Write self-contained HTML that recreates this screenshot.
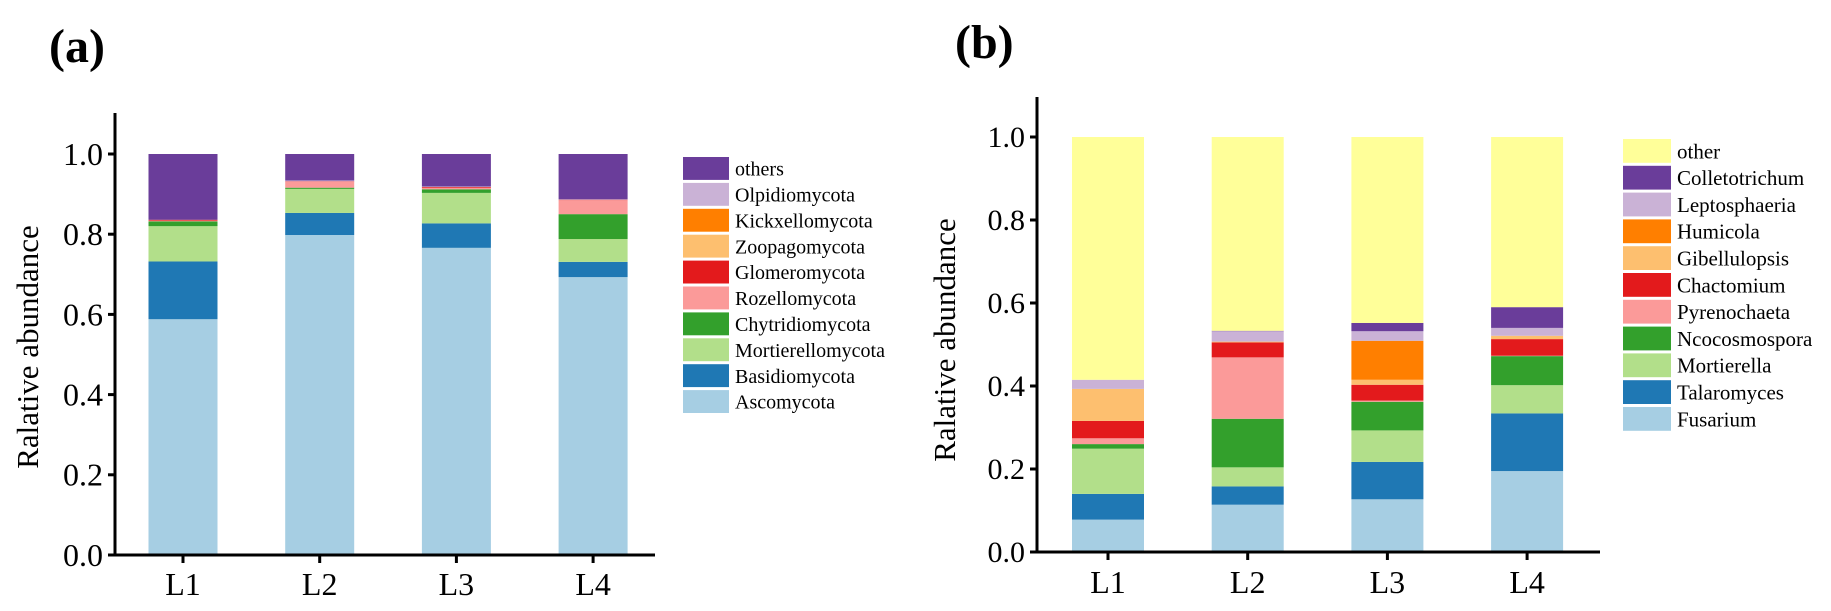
<!DOCTYPE html>
<html><head><meta charset="utf-8"><style>
html,body{margin:0;padding:0;background:#fff;}
svg{display:block;}
svg text{font-family:"Liberation Serif","DejaVu Serif",serif;}
</style></head><body>
<svg id="fig" width="1831" height="611" viewBox="0 0 1831 611" font-family="Liberation Serif, serif">
<text x="49" y="62" font-size="48" font-weight="bold">(a)</text>
<text x="955" y="58" font-size="48" font-weight="bold">(b)</text>
<g id="chartA"></g>
<g id="chartB"></g>
</svg>
<script>
const categories = ["L1","L2","L3","L4"];
const yTicks = [0,0.2,0.4,0.6,0.8,1.0];
const yTickLabels = ["0.0","0.2","0.4","0.6","0.8","1.0"];

// Panel (a) series (bottom -> top)
const aNames = ["Ascomycota","Basidiomycota","Mortierellomycota","Chytridiomycota","Rozellomycota","Glomeromycota","Zoopagomycota","Kickxellomycota","Olpidiomycota","others"];
const aAscomycota = [0.588,0.798,0.766,0.693];
const aBasidiomycota = [0.144,0.055,0.061,0.038];
const aMortierellomycota = [0.088,0.060,0.076,0.057];
const aChytridiomycota = [0.012,0.003,0.009,0.062];
const aRozellomycota = [0.002,0.015,0.004,0.035];
const aGlomeromycota = [0.002,0.001,0.002,0.001];
const aZoopagomycota = [0,0,0,0];
const aKickxellomycota = [0,0,0,0];
const aOlpidiomycota = [0,0.002,0.001,0.001];
const aOthers = [0.164,0.066,0.081,0.113];

// Panel (b) series (bottom -> top)
const bNames = ["Fusarium","Talaromyces","Mortierella","Ncocosmospora","Pyrenochaeta","Chactomium","Gibellulopsis","Humicola","Leptosphaeria","Colletotrichum","other"];
const bFusarium = [0.078,0.114,0.127,0.195];
const bTalaromyces = [0.062,0.044,0.090,0.139];
const bMortierella = [0.109,0.046,0.076,0.068];
const bNeocosmospora = [0.011,0.117,0.069,0.070];
const bPyrenochaeta = [0.014,0.148,0.003,0.001];
const bChaetomium = [0.042,0.036,0.038,0.040];
const bGibellulopsis = [0.077,0.002,0.012,0.008];
const bHumicola = [0,0,0.094,0];
const bLeptosphaeria = [0.022,0.025,0.023,0.019];
const bColletotrichum = [0,0.001,0.020,0.050];
const bOther = [0.585,0.467,0.448,0.410];

const colors = ["#a6cee3","#1f78b4","#b2df8a","#33a02c","#fb9a99","#e31a1c","#fdbf6f","#ff7f00","#cab2d6","#6a3d9a","#ffff99"];
const NS="http://www.w3.org/2000/svg";
const FF="Liberation Serif, DejaVu Serif, serif";
function mk(tag,attrs,parent){const e=document.createElementNS(NS,tag);for(const k in attrs)e.setAttribute(k,attrs[k]);parent.appendChild(e);return e;}

function draw(g,cfg,series,names,cols,prefix){
  const y=v=>cfg.y0-(cfg.y0-cfg.y1)*v;
  const x=i=>cfg.firstTick+i*cfg.step;
  categories.forEach((c,i)=>{
    let acc=0;
    series.forEach((s,k)=>{
      const v=s[i];
      if(v>0){
        const r=mk("rect",{x:x(i)-cfg.bw/2,y:y(acc+v),width:cfg.bw,height:y(acc)-y(acc+v),fill:cols[k]},g);
        
        
      }
      acc+=v;
    });
  });
  const ya=mk("line",{x1:cfg.ax,y1:cfg.top,x2:cfg.ax,y2:cfg.y0+1.5,stroke:"#000","stroke-width":3},g);
  
  
  const xa=mk("line",{x1:cfg.ax-1.5,y1:cfg.y0,x2:cfg.right,y2:cfg.y0,stroke:"#000","stroke-width":3},g);
  
  
  yTicks.forEach((t,i)=>{
    mk("line",{x1:cfg.ax-7,y1:y(t),x2:cfg.ax,y2:y(t),stroke:"#000","stroke-width":3},g);
    const tl=mk("text",{x:cfg.ax-12,y:y(t)+cfg.fs*0.34,"font-size":cfg.fs,"text-anchor":"end","font-family":FF},g);
    tl.textContent=yTickLabels[i];
    
    
  });
  categories.forEach((c,i)=>{
    mk("line",{x1:x(i),y1:cfg.y0,x2:x(i),y2:cfg.y0+8,stroke:"#000","stroke-width":3},g);
    const tl=mk("text",{x:x(i),y:cfg.labY,"font-size":cfg.xfs,"text-anchor":"middle","font-family":FF},g);
    tl.textContent=c;
    
    
  });
  const tt=mk("text",{x:0,y:0,"font-size":cfg.tfs,"text-anchor":"middle","font-family":FF,transform:`translate(${cfg.tx},${cfg.ty}) rotate(-90)`},g);
  tt.textContent="Ralative abundance";
  
  
  const n=names.length;
  for(let j=0;j<n;j++){
    const k=n-1-j;
    const ly=cfg.lgTop+j*cfg.lgStep;
    const lg=mk("g",{},g);
    
    
    mk("rect",{x:cfg.lgX,y:ly,width:cfg.lgW,height:cfg.lgStep-3,fill:cols[k]},lg);
    const t=mk("text",{x:cfg.lgX+cfg.lgW+6,y:ly+cfg.lgStep*0.72,"font-size":cfg.lfs,"font-family":FF},lg);
    t.textContent=names[k];
  }
}

draw(document.getElementById("chartA"),
  {y0:555,y1:154,top:113,ax:115,right:655,firstTick:183,step:136.7,bw:69,fs:32,xfs:32,labY:595,tfs:31,tx:38,ty:347,
   lgX:683,lgTop:157,lgStep:25.9,lgW:46,lfs:20},
  [aAscomycota,aBasidiomycota,aMortierellomycota,aChytridiomycota,aRozellomycota,aGlomeromycota,aZoopagomycota,aKickxellomycota,aOlpidiomycota,aOthers],
  aNames,colors.slice(0,10),"a");

draw(document.getElementById("chartB"),
  {y0:552,y1:137,top:97,ax:1037,right:1600,firstTick:1108,step:139.7,bw:72,fs:30,xfs:32,labY:593,tfs:31,tx:955,ty:340,
   lgX:1623,lgTop:139,lgStep:26.8,lgW:48,lfs:21},
  [bFusarium,bTalaromyces,bMortierella,bNeocosmospora,bPyrenochaeta,bChaetomium,bGibellulopsis,bHumicola,bLeptosphaeria,bColletotrichum,bOther],
  bNames,colors,"b");
</script>
</body></html>
